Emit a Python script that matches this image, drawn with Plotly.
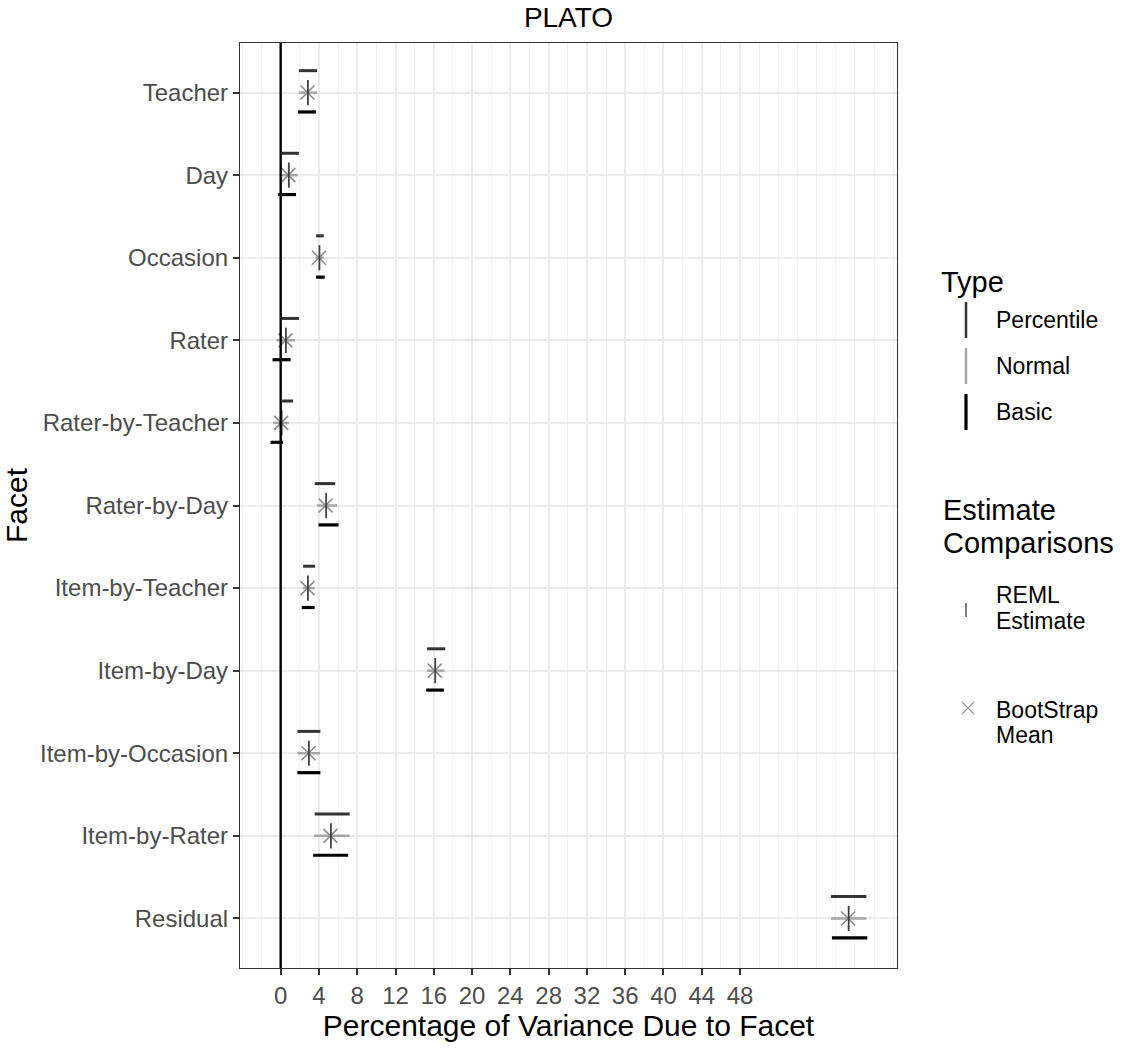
import plotly.graph_objects as go

facets = ["Teacher", "Day", "Occasion", "Rater", "Rater-by-Teacher", "Rater-by-Day",
          "Item-by-Teacher", "Item-by-Day", "Item-by-Occasion", "Item-by-Rater", "Residual"]
pct_lo = [1.9, 0.1, 3.7, 0.1, 0.15, 3.55, 2.35, 15.3, 1.75, 3.55, 57.5]
pct_hi = [3.8, 1.9, 4.5, 1.9, 1.3, 5.7, 3.6, 17.2, 4.15, 7.2, 61.2]
nrm_lo = [1.9, -0.1, 3.65, -0.45, -0.8, 3.8, 2.3, 15.3, 1.75, 3.5, 57.5]
nrm_hi = [3.8, 1.8, 4.5, 1.5, 0.85, 5.9, 3.55, 17.1, 4.1, 7.2, 61.2]
bas_lo = [1.8, -0.25, 3.7, -0.85, -1.05, 3.95, 2.2, 15.2, 1.75, 3.4, 57.6]
bas_hi = [3.7, 1.6, 4.6, 1.05, 0.25, 6.05, 3.55, 17.05, 4.15, 7.05, 61.3]
reml = [2.85, 0.85, 4.05, 0.55, 0.1, 4.75, 2.85, 16.15, 2.95, 5.25, 59.35]
boot = [2.8, 0.8, 4.0, 0.5, 0.05, 4.7, 2.8, 16.1, 2.9, 5.2, 59.3]
x_ticks = list(range(0, 49, 4))

FONT = "Liberation Sans, Arial, sans-serif"
W, H = 1123, 1048
L, R, T, B = 240, 897, 43, 968

ypos = list(range(1, len(facets) + 1))


def segs(lo, hi, off):
    xs, ys = [], []
    for a, b, y in zip(lo, hi, ypos):
        xs += [a, b, None]
        ys += [y + off, y + off, None]
    return xs, ys


fig = go.Figure()
for lo, hi, off, col, wd in [(pct_lo, pct_hi, -0.265, "#333333", 3),
                             (nrm_lo, nrm_hi, 0.0, "#a6a6a6", 2.5),
                             (bas_lo, bas_hi, 0.235, "#000000", 3.2)]:
    xs, ys = segs(lo, hi, off)
    fig.add_trace(go.Scatter(x=xs, y=ys, mode="lines", line=dict(color=col, width=wd),
                             showlegend=False, hoverinfo="skip"))

fig.add_trace(go.Scatter(x=boot, y=ypos, mode="markers", showlegend=False,
                         marker=dict(symbol="x-thin", size=14, line=dict(color="#8c8c8c", width=1.6))))
fig.add_trace(go.Scatter(x=reml, y=ypos, mode="markers", showlegend=False,
                         marker=dict(symbol="line-ns", size=18, line=dict(color="#404040", width=1.8))))

# vertical reference line at 0
fig.add_shape(type="line", xref="x", yref="paper", x0=0, x1=0, y0=0, y1=1,
              line=dict(color="black", width=2.4), layer="above")


def px(xp):
    return (xp - L) / (R - L)


def py(yp):
    return (B - yp) / (B - T)


# manual legend (ggplot style)
ann = []


def text(s, xp, yp, size):
    ann.append(dict(text=s, x=px(xp), y=py(yp), xref="paper", yref="paper",
                    xanchor="left", yanchor="middle", showarrow=False,
                    font=dict(family=FONT, size=size, color="black")))


text("Type", 939, 282, 29)
for lab, yc, col, wd in [("Percentile", 320, "#333333", 2.5),
                         ("Normal", 366, "#a6a6a6", 2.5),
                         ("Basic", 412, "#000000", 3.2)]:
    fig.add_shape(type="line", xref="paper", yref="paper", x0=px(966), x1=px(966),
                  y0=py(yc - 18), y1=py(yc + 18), line=dict(color=col, width=wd))
    text(lab, 994, yc, 23)

text("Estimate", 941, 510, 29)
text("Comparisons", 941, 543, 29)
fig.add_shape(type="line", xref="paper", yref="paper", x0=px(966), x1=px(966),
              y0=py(603), y1=py(617), line=dict(color="#555555", width=1.5))
text("REML", 994, 595, 23)
text("Estimate", 994, 621, 23)
for dx, dy in [(1, 1), (1, -1)]:
    fig.add_shape(type="line", xref="paper", yref="paper",
                  x0=px(968 - 6 * dx), x1=px(968 + 6 * dx),
                  y0=py(708 - 6 * dy), y1=py(708 + 6 * dy),
                  line=dict(color="#999999", width=1.3))
text("BootStrap", 994, 710, 23)
text("Mean", 994, 735, 23)

fig.update_layout(
    width=W, height=H,
    margin=dict(l=L, r=W - R, t=T, b=H - B, pad=0),
    paper_bgcolor="white", plot_bgcolor="white",
    font=dict(family=FONT, color="black"),
    title=dict(text="PLATO", x=(L + R) / 2 / W, xanchor="center", y=1 - 17 / H, yanchor="middle",
               font=dict(family=FONT, size=28, color="black")),
    annotations=ann,
    showlegend=False,
)
fig.update_xaxes(
    range=[-4.25, 64.4], tickmode="array", tickvals=x_ticks, ticktext=[str(v) for v in x_ticks],
    showgrid=True, gridcolor="#ebebeb", gridwidth=1.8, zeroline=False,
    minor=dict(tickmode="linear", tick0=0, dtick=2, showgrid=True, gridcolor="#f2f2f2", gridwidth=1, ticks=""),
    showline=True, linecolor="#333333", linewidth=1.2, mirror=True,
    ticks="outside", ticklen=6, tickcolor="#333333", tickwidth=1.5,
    tickfont=dict(family=FONT, size=24, color="#4d4d4d"),
    title=dict(text="Percentage of Variance Due to Facet", standoff=6,
               font=dict(family=FONT, size=30, color="black")),
)
fig.update_yaxes(
    range=[11.6, 0.4], tickmode="array", tickvals=ypos, ticktext=facets,
    showgrid=True, gridcolor="#ebebeb", gridwidth=1.8, zeroline=False,
    showline=True, linecolor="#333333", linewidth=1.2, mirror=True,
    ticks="outside", ticklen=6, tickcolor="#333333", tickwidth=1.5,
    tickfont=dict(family=FONT, size=24, color="#4d4d4d"),
    title=dict(text="Facet", standoff=8, font=dict(family=FONT, size=30, color="black")),
)

fig.write_html("out.html")
